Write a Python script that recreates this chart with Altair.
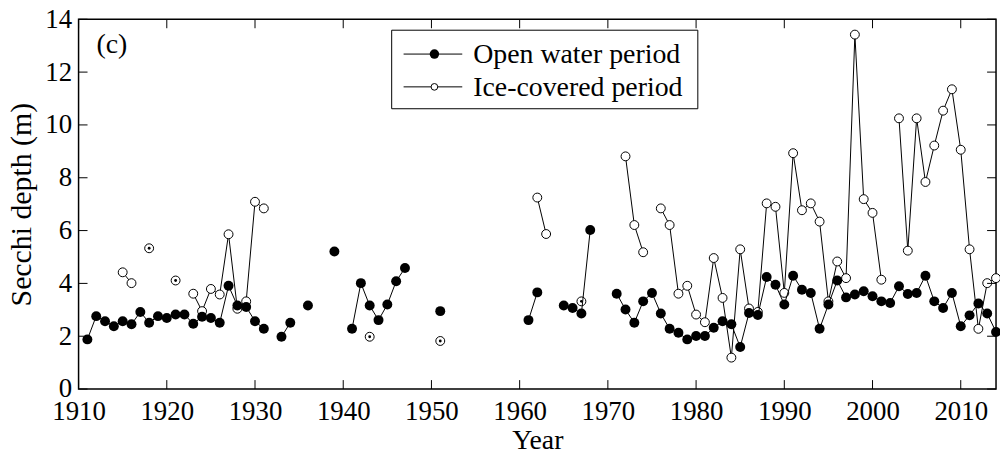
import altair as alt
import pandas as pd

# ---------------- data ----------------
open_years = [1911, 1912, 1913, 1914, 1915, 1916, 1917, 1918, 1919, 1920,
              1921, 1922, 1923, 1924, 1925, 1926, 1927, 1928, 1929, 1930,
              1931, 1933, 1934, 1936, 1939, 1941, 1942, 1943, 1944, 1945,
              1946, 1947, 1951, 1961, 1962, 1965, 1966, 1967, 1968, 1971,
              1972, 1973, 1974, 1975, 1976, 1977, 1978, 1979, 1980, 1981,
              1982, 1983, 1984, 1985, 1986, 1987, 1988, 1989, 1990, 1991,
              1992, 1993, 1994, 1995, 1996, 1997, 1998, 1999, 2000, 2001,
              2002, 2003, 2004, 2005, 2006, 2007, 2008, 2009, 2010, 2011,
              2012, 2013, 2014]
open_vals = [1.88, 2.76, 2.57, 2.38, 2.57, 2.45, 2.92, 2.51, 2.76, 2.69,
             2.82, 2.82, 2.47, 2.74, 2.69, 2.51, 3.91, 3.16, 3.11, 2.57,
             2.28, 1.98, 2.51, 3.16, 5.21, 2.28, 4.01, 3.16, 2.61, 3.20,
             4.08, 4.58, 2.95, 2.61, 3.66, 3.16, 3.07, 2.86, 6.02, 3.61,
             3.01, 2.51, 3.32, 3.64, 2.86, 2.28, 2.13, 1.88, 2.01, 2.01,
             2.32, 2.57, 2.45, 1.59, 2.88, 2.80, 4.24, 3.95, 3.20, 4.29,
             3.76, 3.64, 2.28, 3.20, 4.11, 3.47, 3.58, 3.70, 3.51, 3.32,
             3.26, 3.89, 3.60, 3.64, 4.29, 3.32, 3.07, 3.64, 2.38, 2.79,
             3.24, 2.86, 2.16]

ice_years = [1915, 1916, 1918, 1921, 1923, 1924, 1925, 1926, 1927, 1928,
             1929, 1930, 1931, 1943, 1951, 1962, 1963, 1967, 1972, 1973,
             1974, 1976, 1977, 1978, 1979, 1980, 1981, 1982, 1983, 1984,
             1985, 1986, 1987, 1988, 1989, 1990, 1991, 1992, 1993, 1994,
             1995, 1996, 1997, 1998, 1999, 2000, 2001, 2003, 2004, 2005,
             2006, 2007, 2008, 2009, 2010, 2011, 2012, 2013, 2014]
ice_vals = [4.42, 4.01, 5.33, 4.11, 3.61, 2.95, 3.79, 3.58, 5.86, 3.04,
            3.32, 7.09, 6.84, 1.98, 1.82, 7.25, 5.87, 3.32, 8.81, 6.21,
            5.18, 6.84, 6.21, 3.61, 3.91, 2.82, 2.53, 4.96, 3.45, 1.19,
            5.29, 3.05, 2.92, 7.03, 6.90, 3.64, 8.93, 6.77, 7.03, 6.34,
            3.32, 4.83, 4.20, 13.42, 7.19, 6.67, 4.14, 10.25, 5.24, 10.25,
            7.84, 9.22, 10.54, 11.35, 9.06, 5.29, 2.28, 4.01, 4.20]

series_names = ["Open water period", "Ice-covered period"]
x_ticks = list(range(1910, 2011, 10))
y_ticks = list(range(0, 15, 2))
panel_label = "(c)"
x_title = "Year"
y_title = "Secchi depth (m)"

# ---------------- helpers ----------------
def run_ids(years):
    ids, s = [], 0
    for i, y in enumerate(years):
        if i > 0 and y - years[i - 1] != 1:
            s += 1
        ids.append(s)
    return ids

open_df = pd.DataFrame({"year": open_years, "depth": open_vals, "seg": run_ids(open_years)})
ice_df = pd.DataFrame({"year": ice_years, "depth": ice_vals, "seg": run_ids(ice_years)})
ice_df["n"] = ice_df.groupby("seg")["year"].transform("count")
iso_df = ice_df[ice_df["n"] == 1]

W, H = 923, 372
FONT = "'Liberation Serif', 'Times New Roman', Times, serif"
TL = 9  # inward tick length

xs = alt.Scale(domain=[1910, 2014], nice=False, zero=False)
ys = alt.Scale(domain=[0, 14], nice=False)

xaxis = alt.Axis(values=x_ticks, format="d", ticks=False, domain=False, grid=False,
                 labelFont=FONT, labelFontSize=27, labelColor="black", labelPadding=10,
                 title=x_title, titleFont=FONT, titleFontSize=28, titleFontWeight="normal",
                 titleColor="black", titlePadding=2, labelFlush=False)
yaxis = alt.Axis(values=y_ticks, ticks=False, domain=False, grid=False,
                 labelFont=FONT, labelFontSize=27, labelColor="black", labelPadding=7,
                 title=y_title, titleFont=FONT, titleFontSize=30, titleFontWeight="normal",
                 titleColor="black", titlePadding=8, labelFlush=False)

X = alt.X("year:Q", scale=xs, axis=xaxis)
Y = alt.Y("depth:Q", scale=ys, axis=yaxis)

ice_lines = alt.Chart(ice_df).mark_line(color="black", strokeWidth=1).encode(
    x=X, y=Y, detail="seg:N")
ice_pts = alt.Chart(ice_df).mark_point(shape="circle", filled=True, fill="white",
                                        stroke="black", strokeWidth=1, size=80,
                                        opacity=1).encode(x=X, y=Y)
iso_dots = alt.Chart(iso_df).mark_circle(color="black", size=8, opacity=1).encode(x=X, y=Y)
open_lines = alt.Chart(open_df).mark_line(color="black", strokeWidth=1).encode(
    x=X, y=Y, detail="seg:N")
open_pts = alt.Chart(open_df).mark_circle(color="black", size=100, opacity=1).encode(x=X, y=Y)

# inward ticks on all four sides
xt = pd.DataFrame({"t": x_ticks})
yt = pd.DataFrame({"t": y_ticks})
xtick_b = alt.Chart(xt).mark_rule(color="black", strokeWidth=1).encode(
    x=alt.X("t:Q", scale=xs), y=alt.value(H), y2=alt.value(H - TL))
xtick_t = alt.Chart(xt).mark_rule(color="black", strokeWidth=1).encode(
    x=alt.X("t:Q", scale=xs), y=alt.value(0), y2=alt.value(TL))
ytick_l = alt.Chart(yt).mark_rule(color="black", strokeWidth=1).encode(
    y=alt.Y("t:Q", scale=ys), x=alt.value(0), x2=alt.value(TL))
ytick_r = alt.Chart(yt).mark_rule(color="black", strokeWidth=1).encode(
    y=alt.Y("t:Q", scale=ys), x=alt.value(W), x2=alt.value(W - TL))

# panel label
lab_df = pd.DataFrame({"s": [panel_label]})
panel = alt.Chart(lab_df).mark_text(font=FONT, fontSize=28, align="left",
                                    baseline="middle", color="black").encode(
    text="s:N", x=alt.value(18), y=alt.value(26))

# legend (drawn manually)
LX0, LX1, LY0, LY1 = 315, 623, 11, 90
row_y = [35, 68]
leg_df = pd.DataFrame({"s": [0]})
leg_box = alt.Chart(leg_df).mark_rect(fill="white", stroke="black", strokeWidth=1).encode(
    x=alt.value(LX0), x2=alt.value(LX1), y=alt.value(LY0), y2=alt.value(LY1))
leg_layers = [leg_box]
for i, name in enumerate(series_names):
    d = pd.DataFrame({"s": [name]})
    leg_layers.append(alt.Chart(d).mark_rule(color="black", strokeWidth=1).encode(
        x=alt.value(327), x2=alt.value(386), y=alt.value(row_y[i])))
    if i == 0:
        leg_layers.append(alt.Chart(d).mark_circle(color="black", size=90, opacity=1).encode(
            x=alt.value(358), y=alt.value(row_y[i])))
    else:
        leg_layers.append(alt.Chart(d).mark_point(shape="circle", filled=True, fill="white",
                                                  stroke="black", strokeWidth=1, size=45,
                                                  opacity=1).encode(
            x=alt.value(358), y=alt.value(row_y[i])))
    leg_layers.append(alt.Chart(d).mark_text(font=FONT, fontSize=28, align="left",
                                             baseline="middle", color="black").encode(
        text="s:N", x=alt.value(397), y=alt.value(row_y[i] + 1)))

chart = alt.layer(
    ice_lines, ice_pts, iso_dots, open_lines, open_pts,
    xtick_b, xtick_t, ytick_l, ytick_r, panel, *leg_layers
).properties(
    width=W, height=H,
    autosize=alt.AutoSizeParams(type="none"),
    padding={"left": 71, "top": 10, "right": 4, "bottom": 65},
    background="white",
).configure_view(stroke="black", strokeWidth=1.5)

chart.save("out.html", embed_options={"renderer": "svg", "actions": False})
